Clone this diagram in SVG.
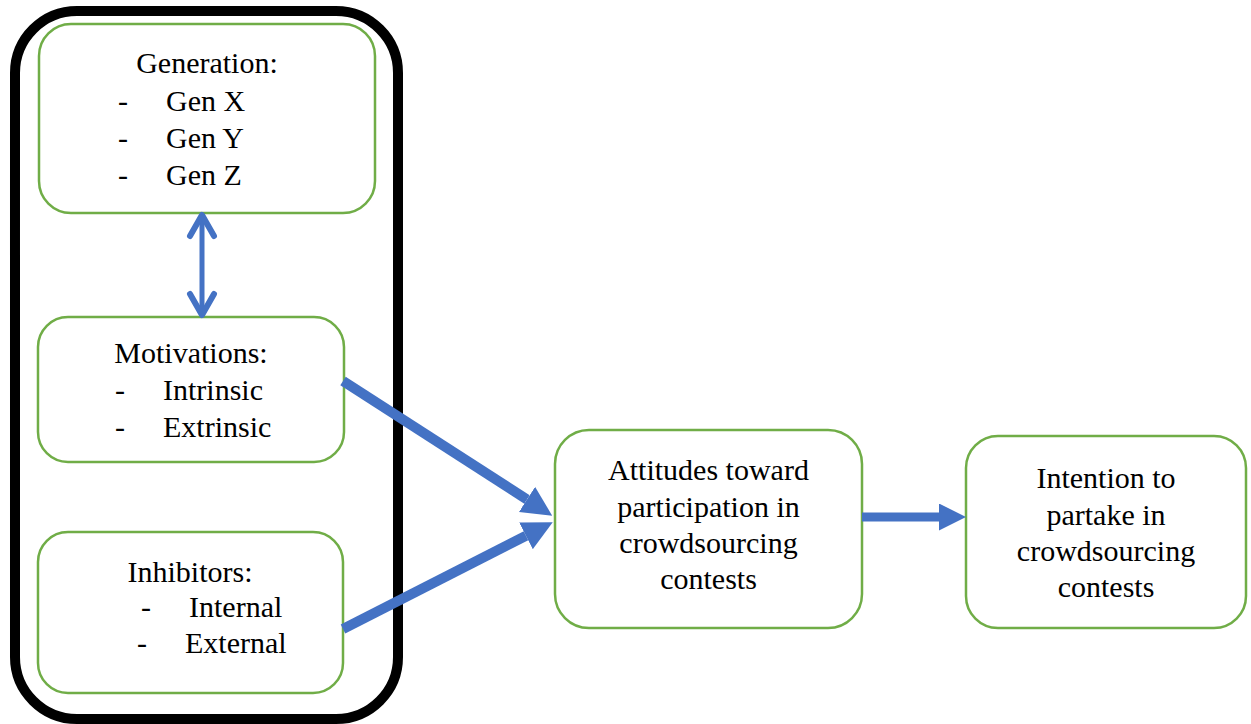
<svg xmlns="http://www.w3.org/2000/svg" width="1251" height="724" viewBox="0 0 1251 724">
  <style>
    .box { fill: #ffffff; stroke: #70AD47; stroke-width: 2.5; }
    .t { font-size: 30px; fill: #000000; }
    .c { text-anchor: middle; }
    .conn { stroke: #4472C4; fill: none; }
  </style>
  <defs>
    <marker id="head" viewBox="0 0 10 10" refX="0" refY="5" markerWidth="3" markerHeight="3" orient="auto" markerUnits="strokeWidth">
      <path d="M0,0 L10,5 L0,10 z" fill="#4472C4"/>
    </marker>
  </defs>
  <rect width="1251" height="724" fill="#ffffff"/>

  <g id="group-frame">
    <rect x="15" y="11" width="383" height="708" rx="62" ry="62" fill="none" stroke="#000000" stroke-width="10"/>
  </g>

  <g font-family="Liberation Serif, Tinos, Times New Roman, DejaVu Serif, serif">
  <g id="node-generation">
    <rect class="box" x="39" y="24" width="336" height="189" rx="32" ry="32"/>
    <text class="t c" x="207" y="73">Generation:</text>
    <text class="t" x="118" y="111">-</text>
    <text class="t" x="166" y="111">Gen X</text>
    <text class="t" x="118" y="148">-</text>
    <text class="t" x="166" y="148">Gen Y</text>
    <text class="t" x="118" y="185">-</text>
    <text class="t" x="166" y="185">Gen Z</text>
  </g>

  <g id="node-motivations">
    <rect class="box" x="38" y="317" width="306" height="145" rx="30" ry="30"/>
    <text class="t c" x="191" y="363">Motivations:</text>
    <text class="t" x="115" y="400">-</text>
    <text class="t" x="163" y="400">Intrinsic</text>
    <text class="t" x="115" y="437">-</text>
    <text class="t" x="163" y="437">Extrinsic</text>
  </g>

  <g id="node-inhibitors">
    <rect class="box" x="38" y="532" width="305" height="161" rx="30" ry="30"/>
    <text class="t c" x="190" y="582">Inhibitors:</text>
    <text class="t" x="141" y="617">-</text>
    <text class="t" x="189" y="617">Internal</text>
    <text class="t" x="137" y="653">-</text>
    <text class="t" x="185" y="653">External</text>
  </g>

  <g id="node-attitudes">
    <rect class="box" x="555" y="430" width="307" height="198" rx="34" ry="34"/>
    <text class="t c" x="708.5" y="480">Attitudes toward</text>
    <text class="t c" x="708.5" y="517">participation in</text>
    <text class="t c" x="708.5" y="553">crowdsourcing</text>
    <text class="t c" x="708.5" y="589">contests</text>
  </g>

  <g id="node-intention">
    <rect class="box" x="966" y="436" width="280" height="192" rx="32" ry="32"/>
    <text class="t c" x="1106" y="488">Intention to</text>
    <text class="t c" x="1106" y="525">partake in</text>
    <text class="t c" x="1106" y="561">crowdsourcing</text>
    <text class="t c" x="1106" y="597">contests</text>
  </g>
  </g>

  <g id="connectors">
    <line class="conn" x1="202" y1="216" x2="202" y2="313" stroke-width="5" stroke-linecap="round"/>
    <polyline class="conn" points="190,236 202,215 214,236" stroke-width="6" stroke-linecap="round" stroke-linejoin="round"/>
    <polyline class="conn" points="190,294 202,315 214,294" stroke-width="6" stroke-linecap="round" stroke-linejoin="round"/>
    <line class="conn" x1="343" y1="381" x2="527" y2="499.5" stroke-width="10" marker-end="url(#head)"/>
    <line class="conn" x1="343" y1="629" x2="526" y2="535.8" stroke-width="10" marker-end="url(#head)"/>
    <line class="conn" x1="862" y1="517" x2="939" y2="517" stroke-width="9" marker-end="url(#head)"/>
  </g>
</svg>
